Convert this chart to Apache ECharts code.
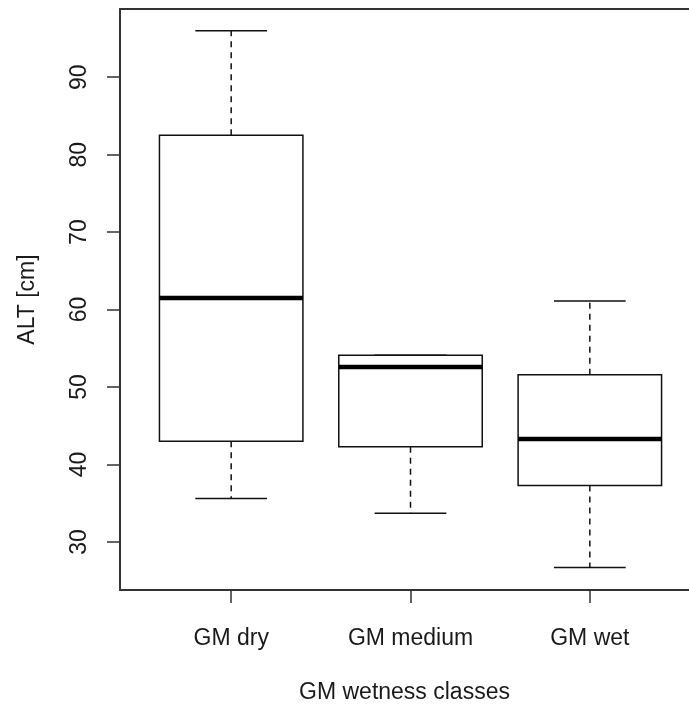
<!DOCTYPE html>
<html>
<head>
<meta charset="utf-8">
<script src="https://cdn.jsdelivr.net/npm/echarts@6/dist/echarts.min.js"></script>
<style>
  html, body { margin: 0; padding: 0; background: #fff; }
  #chart { width: 689px; height: 706px; }
</style>
</head>
<body>
<div id="chart"></div>
<script>
// ---- data ----
var categories = ['GM dry', 'GM medium', 'GM wet'];
var positions = [1, 2, 3];
var lowerWhisker = [35.6, 33.7, 26.7];
var q1 = [43.0, 42.3, 37.3];
var median = [61.5, 52.6, 43.3];
var q3 = [82.5, 54.1, 51.6];
var upperWhisker = [96.0, 54.1, 61.1];
var yTicks = [30, 40, 50, 60, 70, 80, 90];

var boxData = positions.map(function (p, i) {
  return [p, lowerWhisker[i], q1[i], median[i], q3[i], upperWhisker[i]];
});

var FONT = '"Liberation Sans", Arial, sans-serif';
var TEXT = '#1a1a1a';
var FRAME = '#333';
var BOX_HALF = 0.4;
var CAP_HALF = 0.2;

function renderBox(params, api) {
  var x = api.value(0);
  var lo = api.value(1), a = api.value(2), m = api.value(3), b = api.value(4), hi = api.value(5);
  function c(px, v) { return api.coord([px, v]); }
  var pTL = c(x - BOX_HALF, b), pBR = c(x + BOX_HALF, a);
  var lineStyle = { stroke: '#111', lineWidth: 1.5, fill: null };
  var dashStyle = { stroke: '#111', lineWidth: 1.5, lineDash: [6, 5], fill: null };
  var children = [];
  var pc = c(x, b), ph = c(x, hi), pa = c(x, a), pl = c(x, lo);
  children.push({ type: 'line', shape: { x1: pc[0], y1: pc[1], x2: ph[0], y2: ph[1] }, style: dashStyle });
  children.push({ type: 'line', shape: { x1: pa[0], y1: pa[1], x2: pl[0], y2: pl[1] }, style: dashStyle });
  var ch1 = c(x - CAP_HALF, hi), ch2 = c(x + CAP_HALF, hi);
  var cl1 = c(x - CAP_HALF, lo), cl2 = c(x + CAP_HALF, lo);
  children.push({ type: 'line', shape: { x1: ch1[0], y1: ch1[1], x2: ch2[0], y2: ch2[1] }, style: lineStyle });
  children.push({ type: 'line', shape: { x1: cl1[0], y1: cl1[1], x2: cl2[0], y2: cl2[1] }, style: lineStyle });
  children.push({ type: 'rect', shape: { x: pTL[0], y: pTL[1], width: pBR[0] - pTL[0], height: pBR[1] - pTL[1] },
    style: { stroke: '#111', lineWidth: 1.5, fill: '#fff' } });
  var m1 = c(x - BOX_HALF, m), m2 = c(x + BOX_HALF, m);
  children.push({ type: 'line', shape: { x1: m1[0], y1: m1[1], x2: m2[0], y2: m2[1] },
    style: { stroke: '#000', lineWidth: 4.5 } });
  return { type: 'group', children: children };
}

var chart = echarts.init(document.getElementById('chart'), null, { renderer: 'canvas' });
chart.setOption({
  animation: false,
  backgroundColor: '#fff',
  grid: { show: false, left: 120, top: 9, right: 0, height: 581, containLabel: false, outerBoundsMode: 'none' },
  xAxis: [{
    type: 'value', min: 0.38, max: 3.553, position: 'bottom',
    splitLine: { show: false },
    axisLine: { show: true, lineStyle: { color: FRAME, width: 2 } },
    axisTick: { show: true, length: 13, customValues: positions, lineStyle: { color: FRAME, width: 1.5 } },
    axisLabel: {
      show: true, customValues: positions, margin: 37,
      fontSize: 23, fontFamily: FONT, color: TEXT,
      formatter: function (v) { var i = positions.indexOf(Math.round(v)); return i >= 0 ? categories[i] : ''; }
    },
    name: 'GM wetness classes', nameLocation: 'middle', nameGap: 91,
    nameTextStyle: { fontSize: 23, fontFamily: FONT, color: TEXT }
  }, {
    type: 'value', min: 0.38, max: 3.553, position: 'top',
    splitLine: { show: false },
    axisLine: { show: true, lineStyle: { color: FRAME, width: 2 } },
    axisTick: { show: false }, axisLabel: { show: false }
  }],
  yAxis: {
    type: 'value', min: 23.8, max: 98.8,
    splitLine: { show: false },
    axisLine: { show: true, lineStyle: { color: FRAME, width: 2 } },
    axisTick: { show: true, length: 13, customValues: yTicks, lineStyle: { color: FRAME, width: 1.5 } },
    axisLabel: {
      show: true, customValues: yTicks, rotate: 90, margin: 29,
      fontSize: 23, fontFamily: FONT, color: TEXT
    },
    name: 'ALT [cm]', nameLocation: 'middle', nameGap: 81, nameRotate: 90,
    nameTextStyle: { fontSize: 23, fontFamily: FONT, color: TEXT }
  },
  series: [{
    type: 'custom',
    renderItem: renderBox,
    encode: { x: 0, y: [1, 2, 3, 4, 5] },
    data: boxData,
    clip: false
  }]
});
</script>
</body>
</html>
